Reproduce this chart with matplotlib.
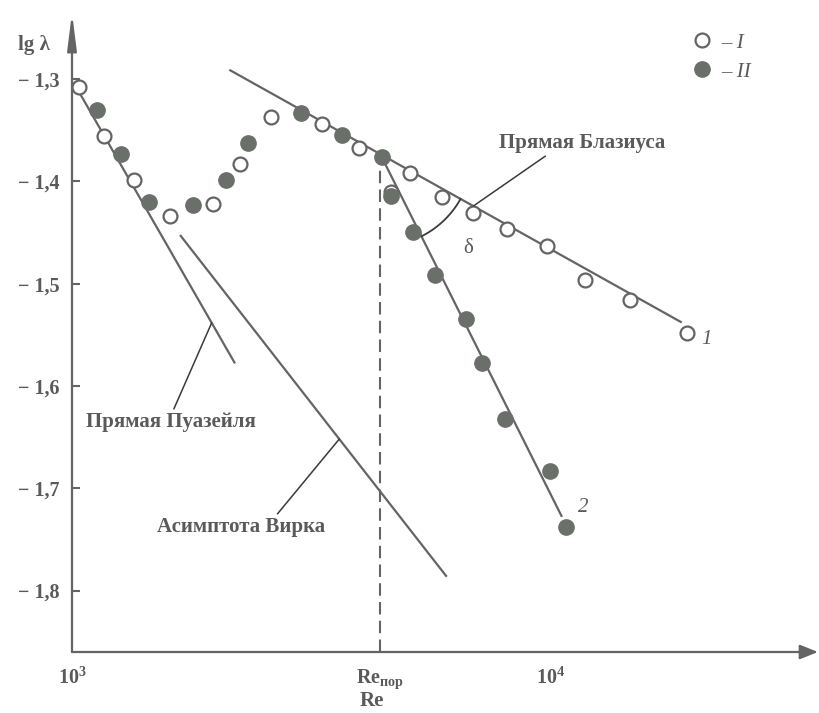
import numpy as np
import matplotlib
matplotlib.use("Agg")
import matplotlib.pyplot as plt
from matplotlib.lines import Line2D

plt.rcParams["font.family"] = ["Liberation Serif", "DejaVu Serif"]
plt.rcParams["font.weight"] = "bold"
plt.rcParams["axes.labelweight"] = "bold"
plt.rcParams["mathtext.fontset"] = "custom"
plt.rcParams["mathtext.rm"] = "Liberation Serif:bold"
plt.rcParams["mathtext.bf"] = "Liberation Serif:bold"
plt.rcParams["mathtext.it"] = "Liberation Serif:italic:bold"

TEXT = "#5a5a5a"
LINE = "#646464"
FILL = "#6a6f6a"
LEADER = "#3a3a3a"

# series I (open circles)
re_I = [1036, 1165, 1347, 1602, 1972, 2246, 2599, 3321, 3974, 4627, 5077,
        5911, 6883, 8083, 9795, 11780, 14620, 19200]
lg_I = [-1.308, -1.356, -1.399, -1.434, -1.422, -1.383, -1.337, -1.344,
        -1.367, -1.410, -1.392, -1.415, -1.431, -1.447, -1.463, -1.496,
        -1.516, -1.548]

# series II (filled circles)
re_II = [1126, 1266, 1450, 1791, 2094, 2327, 3002, 3656, 4432, 4634, 5158,
         5725, 6636, 7167, 8017, 9952, 10750]
lg_II = [-1.330, -1.373, -1.420, -1.423, -1.399, -1.363, -1.333, -1.355,
         -1.376, -1.414, -1.450, -1.492, -1.535, -1.578, -1.632, -1.683,
         -1.738]

# straight lines, end points (Re, lg lambda)
blasius_re = [2130, 18750]
blasius_lg = [-1.291, -1.538]
poiseuille_re = [1015, 2189]
poiseuille_lg = [-1.306, -1.578]
virk_re = [1681, 6057]
virk_lg = [-1.4525, -1.7865]
line2_end_re = 10540
line2_end_lg = -1.728
re_crit = 4400

yticks = [-1.3, -1.4, -1.5, -1.6, -1.7, -1.8]
ytick_labels = ["\u2212 1,3", "\u2212 1,4", "\u2212 1,5", "\u2212 1,6",
                "\u2212 1,7", "\u2212 1,8"]
xticks = [1e3, re_crit, 1e4]
xtick_labels = [r"$10^3$", r"$\mathrm{Re}_{\mathrm{пор}}$", r"$10^4$"]


def on_line(re_pts, lg_pts, re):
    return float(np.interp(np.log10(re), np.log10(re_pts), lg_pts))


lg_crit = on_line(blasius_re, blasius_lg, re_crit)
line2_re = [re_crit, line2_end_re]
line2_lg = [lg_crit, line2_end_lg]

fig = plt.figure(figsize=(8.19, 7.13), dpi=100)
ax = fig.add_axes([0.08791, 0.08555, 0.91087, 0.8962])
ax.set_xscale("log")
ax.set_xlim(1000, 36090)
ax.set_ylim(-1.8601, -1.2355)
for s in ax.spines.values():
    s.set_visible(False)

# axes drawn as arrows
arrow = dict(color=LINE, lw=1.6, shrinkA=0, shrinkB=0, mutation_scale=20)
ax.annotate("", xy=(1, 0), xytext=(0, 0), xycoords="axes fraction",
            arrowprops=dict(arrowstyle="-|>,head_length=0.55,head_width=0.22", **arrow))
ax.annotate("", xy=(0, 1), xytext=(0, 0), xycoords="axes fraction",
            arrowprops=dict(arrowstyle="-|>,head_length=1.1,head_width=0.14", **arrow))

ax.set_yticks(yticks)
ax.set_yticklabels(ytick_labels)
ax.set_xticks(xticks)
ax.set_xticklabels(xtick_labels)
ax.minorticks_off()
ax.tick_params(axis="y", direction="in", length=6, width=1.5, color=LINE,
               pad=9, labelsize=14.5, labelcolor=TEXT)
ax.tick_params(axis="x", length=0, pad=11, labelsize=14.5, labelcolor=TEXT)

ax.set_ylabel("lg λ", rotation=0, fontsize=15, color=TEXT, ha="center", va="center")
ax.yaxis.set_label_coords(-0.051, 0.95)
ax.set_xlabel("Re", fontsize=15, color=TEXT, ha="center", va="center")
ax.xaxis.set_label_coords(0.402, -0.077)

# lines
lk = dict(color=LINE, lw=1.6, solid_capstyle="butt", zorder=2)
ax.plot(blasius_re, blasius_lg, **lk)
ax.plot(line2_re, line2_lg, **lk)
ax.plot(poiseuille_re, poiseuille_lg, **lk)
ax.plot(virk_re, virk_lg, **lk)
ax.vlines(re_crit, -1.8601, lg_crit - 0.006, colors=LINE, lw=1.5,
          linestyles=(0, (6, 3)), zorder=1)

# measurements
ax.plot(re_I, lg_I, "o", ms=10, mfc="white", mec=LINE, mew=1.6, zorder=3)
ax.plot(re_II, lg_II, "o", ms=11, mfc=FILL, mec=FILL, zorder=4)

# angle delta between the two lines
fig.canvas.draw()
tr = ax.transData
c = tr.transform((re_crit, lg_crit))
p1 = tr.transform((blasius_re[1], blasius_lg[1])) - c
p2 = tr.transform((line2_re[1], line2_lg[1])) - c
a1, a2 = np.arctan2(p1[1], p1[0]), np.arctan2(p2[1], p2[0])
t = np.linspace(min(a1, a2), max(a1, a2), 60)
arc = np.column_stack([c[0] + 92 * np.cos(t), c[1] + 92 * np.sin(t)])
arc = tr.inverted().transform(arc)
ax.plot(arc[:, 0], arc[:, 1], color=LEADER, lw=1.3, zorder=2)
ax.text(6720, -1.4655, "δ", fontsize=15, fontweight="normal", color=TEXT,
        ha="center", va="center")

# captions with leader lines
lead = dict(arrowstyle="-", color=LEADER, lw=1.1, shrinkA=0, shrinkB=0)
ax.annotate("Прямая Пуазейля", xy=(1957, on_line(poiseuille_re, poiseuille_lg, 1957)),
            xytext=(1609, -1.635), ha="center", va="center", fontsize=15, color=TEXT,
            arrowprops=dict(relpos=(0.51, 1), **lead))
ax.annotate("Асимптота Вирка", xy=(3614, on_line(virk_re, virk_lg, 3614)),
            xytext=(2259, -1.7376), ha="center", va="center", fontsize=15, color=TEXT,
            arrowprops=dict(relpos=(0.70, 1), **lead))
ax.annotate("Прямая Блазиуса", xy=(6883, on_line(blasius_re, blasius_lg, 6883)),
            xytext=(11640, -1.3629), ha="center", va="center", fontsize=15, color=TEXT,
            arrowprops=dict(relpos=(0.30, 0), **lead))

ax.text(21130, -1.555, "1", fontsize=15, style="italic", fontweight="normal",
        color=TEXT, ha="center", va="center")
ax.text(11650, -1.7187, "2", fontsize=15, style="italic", fontweight="normal",
        color=TEXT, ha="center", va="center")

handles = [Line2D([], [], marker="o", ls="none", ms=10, mfc="white", mec=LINE, mew=1.6),
           Line2D([], [], marker="o", ls="none", ms=11, mfc=FILL, mec=FILL)]
leg = ax.legend(handles, ["\u2013 I", "\u2013 II"], loc="upper left",
                bbox_to_anchor=(692 / 819, 1 - 33 / 713), bbox_transform=fig.transFigure,
                frameon=False, handlelength=1.0, handletextpad=0.4, borderpad=0,
                borderaxespad=0, labelspacing=0.45,
                prop=dict(family="Liberation Serif", style="italic", weight="normal", size=15))
for txt in leg.get_texts():
    txt.set_color(TEXT)

fig.savefig("out.png", dpi=100, facecolor="white")
